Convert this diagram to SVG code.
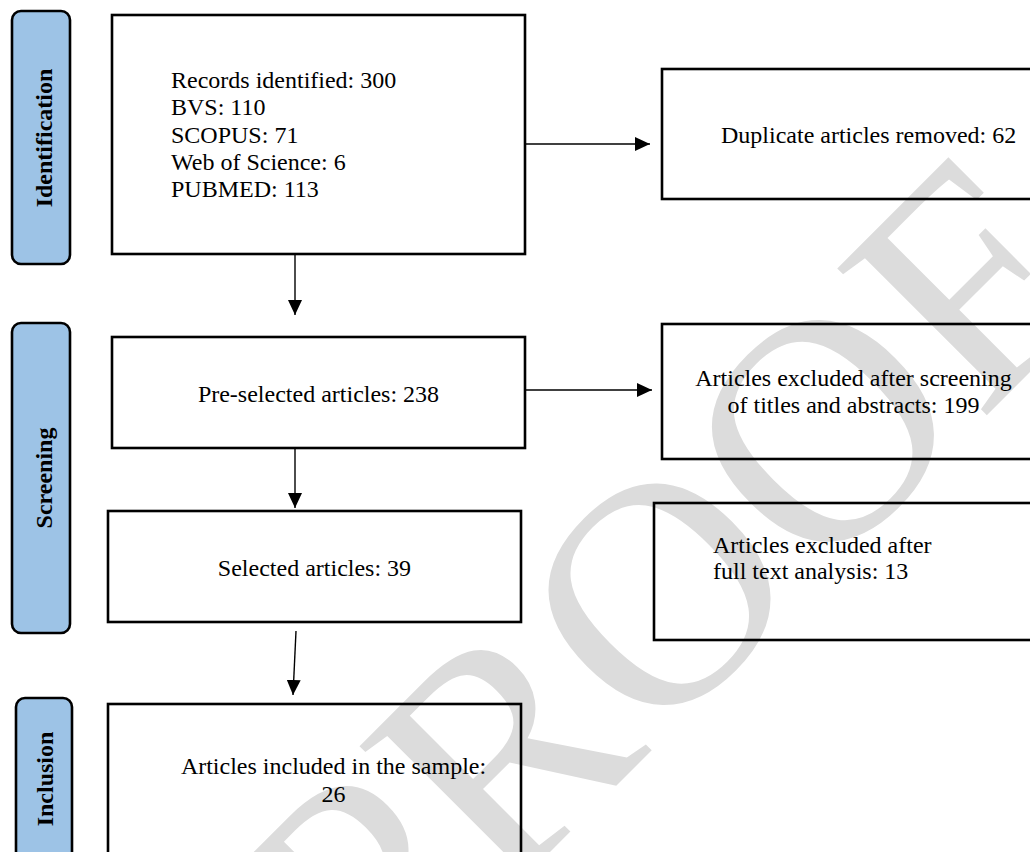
<svg xmlns="http://www.w3.org/2000/svg" width="1030" height="852" viewBox="0 0 1030 852">
<style>
.box{fill:none;stroke:#000;stroke-width:2.6}
.lab{fill:#9dc3e6;stroke:#000;stroke-width:2.6}
.t{font-family:"Liberation Serif","Times New Roman",serif;font-size:24px;fill:#000}
.lt{font-family:"Liberation Serif","Times New Roman",serif;font-size:24px;font-weight:bold;fill:#000;text-anchor:middle}
.m{text-anchor:middle}
.c{fill:none;stroke:#000;stroke-width:1.4}
.wm{font-family:"Liberation Serif","Times New Roman",serif;font-size:320px;fill:#dcdcdc;text-anchor:middle}
</style>
<defs>
<marker id="ah" markerUnits="userSpaceOnUse" markerWidth="16" markerHeight="14" refX="15" refY="7" orient="auto" viewBox="0 0 16 14">
<path d="M0,0 L15,7 L0,14 z" fill="#000"/>
</marker>
</defs>
<rect width="1030" height="852" fill="#fff"/>
<text class="wm" transform="translate(740,662) rotate(-45)" x="0" y="0">PROOF</text>

<g id="label-identification">
<rect class="lab" x="12" y="11" width="58" height="253" rx="9"/>
<text class="lt" transform="translate(43.5,138) rotate(-90)" x="0" y="8">Identification</text>
</g>
<g id="label-screening">
<rect class="lab" x="12" y="323" width="58" height="310" rx="9"/>
<text class="lt" transform="translate(43.5,478) rotate(-90)" x="0" y="8">Screening</text>
</g>
<g id="label-inclusion">
<rect class="lab" x="16" y="698" width="56" height="180" rx="9"/>
<text class="lt" transform="translate(45,779) rotate(-90)" x="0" y="8">Inclusion</text>
</g>

<g id="node-records">
<rect class="box" x="112" y="15" width="413" height="239"/>
<text class="t" x="171" y="88">Records identified: 300</text>
<text class="t" x="171" y="115">BVS: 110</text>
<text class="t" x="171" y="143">SCOPUS: 71</text>
<text class="t" x="171" y="170">Web of Science: 6</text>
<text class="t" x="171" y="197">PUBMED: 113</text>
</g>
<g id="node-duplicates">
<rect class="box" x="662" y="69" width="380" height="130"/>
<text class="t" x="721" y="143">Duplicate articles removed: 62</text>
</g>
<g id="node-preselected">
<rect class="box" x="112" y="337" width="413" height="111"/>
<text class="t m" x="318.5" y="402">Pre-selected articles: 238</text>
</g>
<g id="node-excluded-screening">
<rect class="box" x="662" y="324" width="380" height="135"/>
<text class="t m" x="853.5" y="386">Articles excluded after screening</text>
<text class="t m" x="853.5" y="413">of titles and abstracts: 199</text>
</g>
<g id="node-selected">
<rect class="box" x="108" y="511" width="413" height="111"/>
<text class="t m" x="314.5" y="576">Selected articles: 39</text>
</g>
<g id="node-excluded-fulltext">
<rect class="box" x="654" y="503" width="390" height="137"/>
<text class="t" x="713" y="553">Articles excluded after</text>
<text class="t" x="713" y="579">full text analysis: 13</text>
</g>
<g id="node-included">
<rect class="box" x="108" y="704" width="413" height="180"/>
<text class="t m" x="333.5" y="774">Articles included in the sample:</text>
<text class="t m" x="333.5" y="802">26</text>
</g>

<g id="connectors">
<line class="c" x1="525" y1="144" x2="650" y2="144" marker-end="url(#ah)"/>
<line class="c" x1="295" y1="254" x2="295" y2="315" marker-end="url(#ah)"/>
<line class="c" x1="525" y1="390" x2="652" y2="390" marker-end="url(#ah)"/>
<line class="c" x1="295" y1="448" x2="295" y2="508" marker-end="url(#ah)"/>
<line class="c" x1="296" y1="631" x2="293" y2="695" marker-end="url(#ah)"/>
</g>
</svg>
